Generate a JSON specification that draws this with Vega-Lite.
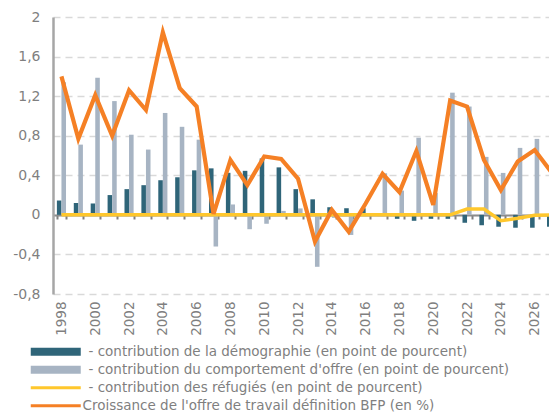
{
  "$schema": "https://vega.github.io/schema/vega-lite/v6.json",
  "width": 496,
  "height": 277,
  "autosize": {"type": "none"},
  "padding": {"left": 53, "top": 17, "right": 0, "bottom": 118},
  "background": "white",
  "config": {"view": {"stroke": null}},
  "data": {
    "values": [
      {"year": 1998, "demo": 0.145, "comp": 1.34, "ref": 0, "total": 1.40},
      {"year": 1999, "demo": 0.12, "comp": 0.71, "ref": 0, "total": 0.77},
      {"year": 2000, "demo": 0.115, "comp": 1.385, "ref": 0, "total": 1.21},
      {"year": 2001, "demo": 0.20, "comp": 1.15, "ref": 0, "total": 0.80},
      {"year": 2002, "demo": 0.26, "comp": 0.81, "ref": 0, "total": 1.26},
      {"year": 2003, "demo": 0.30, "comp": 0.66, "ref": 0, "total": 1.06},
      {"year": 2004, "demo": 0.35, "comp": 1.03, "ref": 0, "total": 1.845},
      {"year": 2005, "demo": 0.38, "comp": 0.89, "ref": 0, "total": 1.28},
      {"year": 2006, "demo": 0.45, "comp": 0.76, "ref": 0, "total": 1.095},
      {"year": 2007, "demo": 0.47, "comp": -0.32, "ref": 0, "total": 0.01},
      {"year": 2008, "demo": 0.425, "comp": 0.105, "ref": 0, "total": 0.555},
      {"year": 2009, "demo": 0.445, "comp": -0.145, "ref": 0, "total": 0.30},
      {"year": 2010, "demo": 0.57, "comp": -0.09, "ref": 0, "total": 0.59},
      {"year": 2011, "demo": 0.48, "comp": 0.04, "ref": 0, "total": 0.565},
      {"year": 2012, "demo": 0.26, "comp": 0.065, "ref": 0, "total": 0.365},
      {"year": 2013, "demo": 0.157, "comp": -0.525, "ref": 0, "total": -0.27},
      {"year": 2014, "demo": 0.077, "comp": -0.03, "ref": 0, "total": 0.05},
      {"year": 2015, "demo": 0.067, "comp": -0.203, "ref": 0, "total": -0.17},
      {"year": 2016, "demo": 0.067, "comp": -0.01, "ref": 0, "total": 0.115},
      {"year": 2017, "demo": 0.01, "comp": 0.42, "ref": 0, "total": 0.415},
      {"year": 2018, "demo": -0.04, "comp": 0.245, "ref": 0, "total": 0.23},
      {"year": 2019, "demo": -0.06, "comp": 0.78, "ref": 0, "total": 0.645},
      {"year": 2020, "demo": -0.04, "comp": 0.22, "ref": 0, "total": 0.10},
      {"year": 2021, "demo": -0.04, "comp": 1.235, "ref": 0, "total": 1.156},
      {"year": 2022, "demo": -0.08, "comp": 1.095, "ref": 0.058, "total": 1.095},
      {"year": 2023, "demo": -0.105, "comp": 0.586, "ref": 0.058, "total": 0.555},
      {"year": 2024, "demo": -0.12, "comp": 0.424, "ref": -0.06, "total": 0.25},
      {"year": 2025, "demo": -0.13, "comp": 0.677, "ref": -0.035, "total": 0.54},
      {"year": 2026, "demo": -0.13, "comp": 0.768, "ref": -0.005, "total": 0.655},
      {"year": 2027, "demo": -0.12, "comp": 0.6, "ref": 0, "total": 0.43}
    ]
  },
  "transform": [
    {"fold": ["demo", "comp", "ref", "total"], "as": ["key", "value"]},
    {"lookup": "key", "from": {"data": {"values": [
      {"key": "demo", "serie": "- contribution de la démographie (en point de pourcent)"},
      {"key": "comp", "serie": "- contribution du comportement d'offre (en point de pourcent)"},
      {"key": "ref", "serie": "- contribution des réfugiés (en point de pourcent)"},
      {"key": "total", "serie": "Croissance de l'offre de travail définition BFP (en %)"}
    ]}, "key": "key", "fields": ["serie"]}}
  ],
  "encoding": {
    "x": {
      "field": "year",
      "type": "ordinal",
      "scale": {"range": [0, 507], "paddingInner": 0.46, "paddingOuter": 0.23},
      "axis": {
        "title": null,
        "offset": -79,
        "domainColor": "#8c8c8c",
        "domainWidth": 2,
        "tickBand": "extent",
        "tickColor": "#7f7f7f",
        "tickWidth": 2,
        "tickSize": 4,
        "labelAngle": -90,
        "labelPadding": 82,
        "labelFont": "DejaVu Sans",
        "labelFontSize": 13.5,
        "labelColor": "#7f7f7f",
        "labelOverlap": false,
        "labelExpr": "datum.value % 2 == 0 ? datum.label : ''",
        "grid": false
      }
    },
    "y": {
      "field": "value",
      "type": "quantitative",
      "scale": {"domain": [-0.8, 2], "nice": false, "zero": false},
      "axis": {
        "title": null,
        "values": [-0.8, -0.4, 0, 0.4, 0.8, 1.2, 1.6, 2],
        "labelExpr": "(datum.value < 0 ? '-' : '') + replace(format(abs(datum.value), '~g'), '.', ',')",
        "ticks": false,
        "labelPadding": 13,
        "labelFont": "DejaVu Sans",
        "labelFontSize": 14,
        "labelColor": "#7f7f7f",
        "domainColor": "#a6a6a6",
        "domainWidth": 2.5,
        "grid": true,
        "gridColor": "#d9d9d9",
        "gridWidth": 1.5,
        "gridDash": [7, 5]
      }
    },
    "color": {
      "field": "serie",
      "type": "nominal",
      "scale": {
        "domain": [
          "- contribution de la démographie (en point de pourcent)",
          "- contribution du comportement d'offre (en point de pourcent)",
          "- contribution des réfugiés (en point de pourcent)",
          "Croissance de l'offre de travail définition BFP (en %)"
        ],
        "range": ["#2f6579", "#a7b4c3", "#ffc72c", "#f58025"]
      },
      "legend": {
        "title": null,
        "orient": "none",
        "legendX": -4,
        "legendY": 328,
        "direction": "vertical",
        "padding": 0,
        "symbolSize": 100,
        "labelOffset": 20,
        "rowPadding": 3,
        "labelFont": "DejaVu Sans",
        "labelFontSize": 13.5,
        "labelColor": "#7f7f7f",
        "labelLimit": 600,
        "encode": {
          "symbols": {
            "update": {
              "shape": {"signal": "datum.index >= 2 ? 'M-5,-0.32H5V0.32H-5Z' : 'M-5,-0.8H5V0.8H-5Z'"},
              "fill": {"scale": "color", "field": "value"},
              "fillOpacity": {"value": 1},
              "strokeWidth": {"value": 0}
            }
          },
          "labels": {
            "update": {
              "dx": {"signal": "datum.index <= 2 ? 6 : 0"}
            }
          }
        }
      }
    }
  },
  "layer": [
    {
      "transform": [{"filter": {"field": "key", "oneOf": ["demo", "comp"]}}],
      "mark": {"type": "bar"},
      "encoding": {
        "xOffset": {"field": "key", "type": "nominal", "scale": {"domain": ["demo", "comp"], "paddingInner": 0, "paddingOuter": 0}},
        "y2": {"datum": 0}
      }
    },
    {
      "transform": [{"filter": {"field": "key", "equal": "ref"}}],
      "mark": {"type": "line", "strokeWidth": 3.5},
      "encoding": {}
    },
    {
      "transform": [{"filter": {"field": "key", "equal": "total"}}],
      "mark": {"type": "line", "strokeWidth": 4.2},
      "encoding": {}
    }
  ]
}
